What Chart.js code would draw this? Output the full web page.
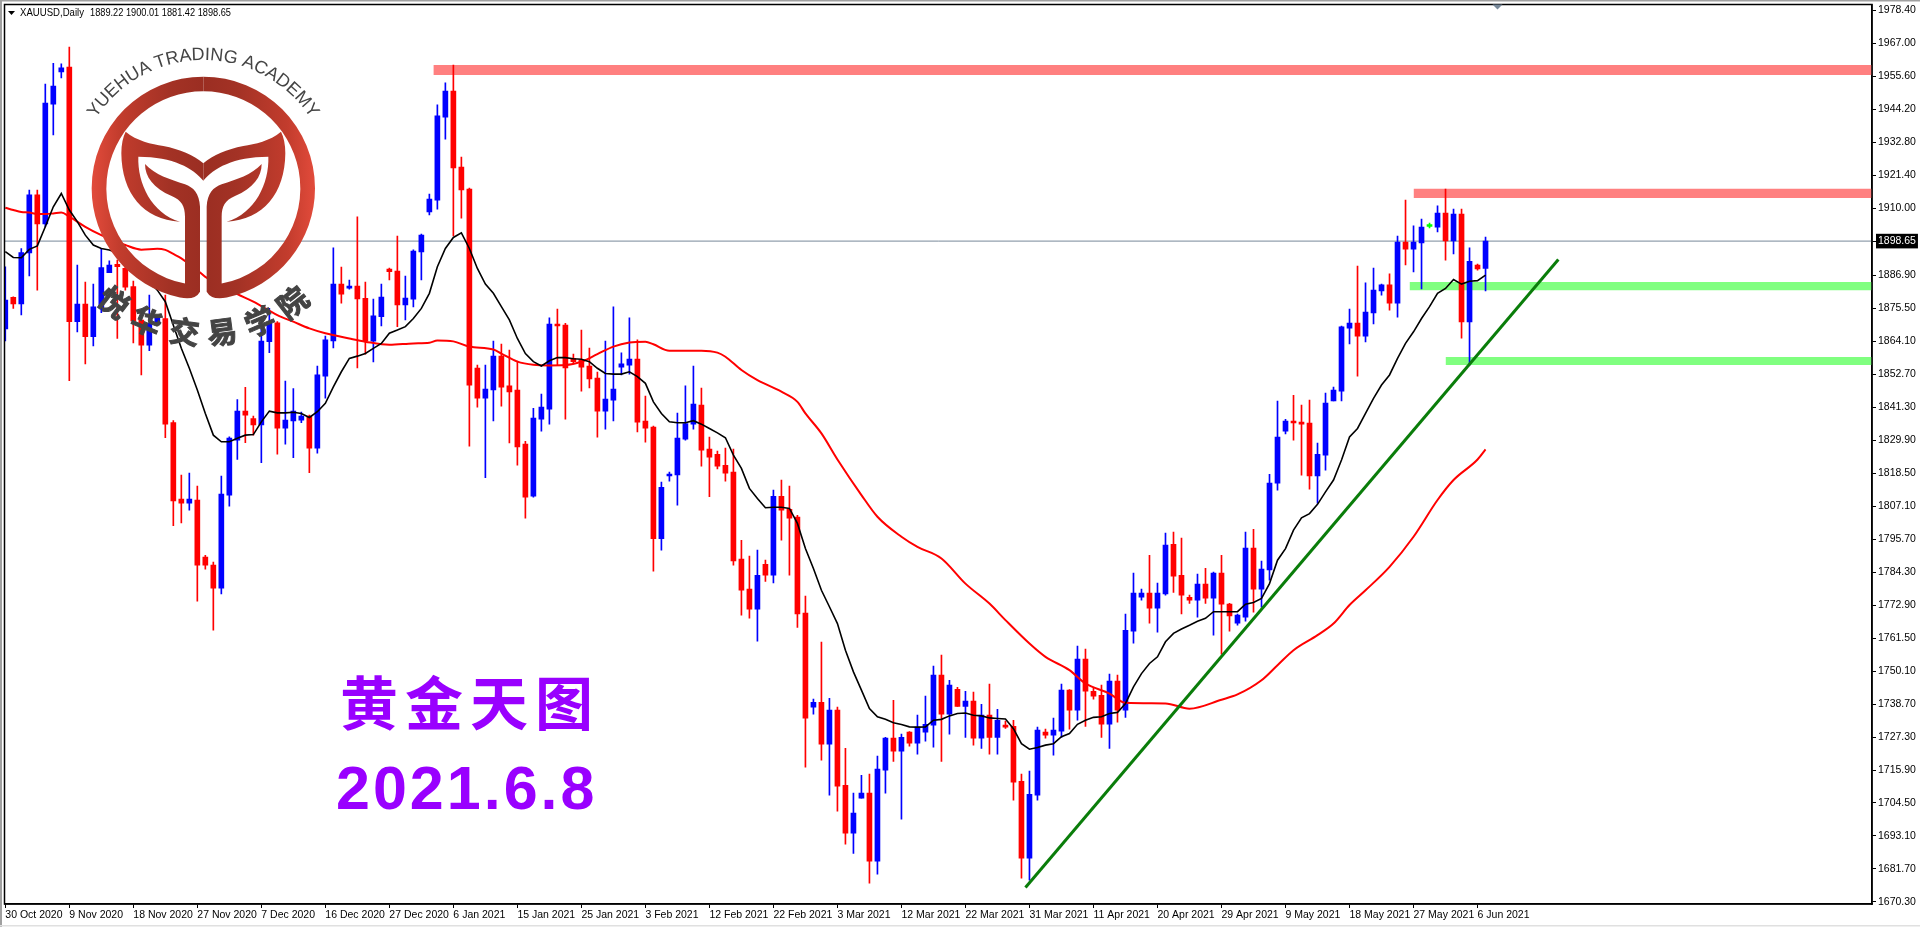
<!DOCTYPE html>
<html>
<head>
<meta charset="utf-8">
<title>XAUUSD Daily</title>
<script src="https://cdn.jsdelivr.net/npm/chart.js@4.4.0/dist/chart.umd.min.js"></script>
<style>
  html, body { margin: 0; padding: 0; background: #fff; overflow: hidden; }
  canvas { display: block; }
</style>
</head>
<body>
<canvas id="chart" width="1920" height="927"></canvas>
<script>
// candles, one entry per bar
const opens = [1868.3,1879.2,1876.9,1894.6,1914.6,1904.6,1946.0,1957.1,1958.8,1870.8,1876.9,1865.6,1875.6,1887.7,1890.6,1889.2,1882.9,1871.4,1862.7,1870.0,
  1871.9,1835.9,1809.5,1808.1,1809.2,1789.5,1786.7,1778.7,1810.9,1829.9,1839.9,1837.3,1835.1,1863.9,1870.4,1834.0,1836.5,1836.8,1838.2,1827.1,
  1852.0,1864.2,1883.8,1882.4,1883.1,1878.9,1864.1,1872.5,1889.0,1888.3,1876.6,1878.6,1894.9,1908.7,1912.8,1941.5,1950.5,1924.2,1916.6,1854.8,
  1844.4,1847.2,1858.9,1848.6,1847.2,1828.5,1810.5,1837.1,1840.6,1870.0,1869.6,1858.1,1857.5,1855.5,1851.3,1839.9,1843.7,1855.1,1855.8,1857.9,
  1836.5,1834.4,1795.8,1817.5,1817.9,1830.2,1835.4,1842.0,1826.8,1825.0,1821.2,1818.8,1788.8,1778.4,1771.5,1787.0,1783.2,1810.5,1806.0,1803.3,
  1770.1,1737.6,1739.3,1724.8,1736.6,1710.6,1694.1,1706.2,1707.9,1684.4,1715.8,1726.9,1722.4,1729.0,1725.2,1729.0,1731.4,1748.7,1735.2,1743.8,
  1737.9,1739.7,1726.9,1734.9,1727.2,1731.4,1731.0,1712.0,1685.4,1707.2,1729.0,1727.9,1729.3,1743.5,1736.6,1754.2,1743.1,1741.7,1731.7,1746.6,
  1736.6,1763.9,1775.6,1777.0,1771.8,1776.7,1793.9,1783.2,1775.6,1774.6,1780.1,1775.3,1783.9,1773.2,1766.6,1768.7,1792.6,1778.4,1785.0,1815.0,
  1833.0,1836.5,1836.1,1835.8,1817.5,1824.7,1843.4,1846.8,1868.6,1870.3,1865.8,1873.8,1881.4,1883.5,1877.2,1898.3,1895.9,1898.0,1903.7,1903.5,
  1908.3,1898.7,1908.0,1870.7,1890.4,1889.22];
const highs = [1889.8,1879.4,1896.1,1916.3,1916.3,1952.9,1960.1,1959.9,1965.7,1890.4,1884.5,1883.8,1896.1,1891.8,1892.1,1889.8,1884.8,1874.8,1880.0,1872.5,
  1880.0,1836.6,1817.8,1818.5,1814.0,1790.1,1787.7,1817.5,1831.0,1843.9,1848.1,1838.2,1868.5,1875.4,1870.8,1850.3,1847.7,1839.6,1838.5,1855.5,
  1865.8,1896.3,1889.7,1885.2,1907.0,1884.5,1878.6,1883.8,1889.3,1900.4,1886.6,1895.6,1901.1,1914.9,1945.7,1953.3,1959.5,1927.7,1917.0,1855.8,
  1855.8,1864.1,1863.1,1861.0,1857.2,1829.5,1840.9,1845.8,1872.1,1875.2,1870.2,1859.6,1867.9,1861.7,1853.4,1864.1,1875.9,1860.0,1872.1,1864.5,
  1845.1,1834.7,1815.4,1818.8,1839.2,1848.6,1855.5,1847.9,1830.9,1826.1,1827.1,1826.8,1795.3,1789.8,1791.9,1788.4,1812.6,1816.1,1814.0,1803.9,
  1776.0,1740.4,1760.1,1740.7,1737.6,1723.4,1707.9,1714.1,1714.5,1720.7,1727.2,1740.0,1728.3,1729.2,1734.9,1741.4,1751.8,1755.6,1746.9,1744.5,
  1743.1,1742.8,1738.6,1745.6,1736.9,1732.8,1733.1,1714.5,1715.5,1730.7,1730.0,1733.8,1745.6,1743.7,1758.7,1757.7,1744.2,1745.2,1749.0,1748.7,
  1769.8,1783.9,1778.4,1790.1,1780.5,1797.8,1798.1,1796.0,1776.3,1783.6,1785.6,1784.3,1790.1,1773.5,1769.8,1798.1,1799.1,1788.1,1818.1,1843.4,
  1837.1,1845.4,1842.0,1843.7,1828.9,1846.1,1848.2,1869.3,1875.2,1890.0,1884.2,1889.3,1883.8,1887.3,1900.4,1912.8,1903.9,1906.3,1904.9,1910.8,
  1916.6,1909.7,1909.7,1896.3,1890.7,1900.01];
const lows = [1864.2,1875.4,1873.1,1886.6,1881.7,1903.6,1935.3,1955.0,1850.4,1867.3,1856.2,1862.4,1873.9,1887.7,1865.0,1881.7,1863.5,1852.4,1860.8,1869.6,
  1830.7,1800.3,1801.3,1805.7,1774.2,1785.3,1764.2,1776.7,1807.1,1823.2,1829.0,1831.6,1822.1,1860.1,1825.0,1828.5,1823.8,1835.9,1818.6,1825.4,
  1844.4,1861.7,1877.2,1882.0,1854.8,1859.6,1856.9,1869.3,1885.2,1869.1,1871.4,1875.9,1885.2,1907.7,1909.7,1933.9,1900.4,1906.6,1827.8,1841.3,
  1816.9,1836.5,1841.6,1828.9,1821.2,1802.9,1810.2,1833.0,1835.4,1855.8,1837.1,1856.2,1846.8,1847.9,1830.9,1833.7,1836.5,1852.4,1852.7,1832.7,
  1829.2,1784.6,1791.9,1815.7,1807.4,1829.9,1833.7,1820.9,1810.3,1819.9,1815.7,1786.7,1769.4,1768.4,1760.4,1781.1,1780.5,1795.3,1783.2,1765.2,
  1716.9,1735.2,1719.3,1707.2,1701.7,1690.3,1687.1,1706.2,1676.8,1679.9,1707.9,1718.9,1698.9,1724.1,1721.4,1725.9,1723.8,1718.9,1728.3,1737.9,
  1727.2,1724.5,1723.4,1721.4,1721.4,1730.3,1705.5,1678.5,1677.8,1705.5,1726.9,1721.0,1727.2,1730.0,1733.1,1731.0,1740.4,1727.2,1723.4,1732.4,
  1734.1,1759.7,1774.6,1766.6,1763.5,1776.3,1777.3,1769.8,1773.5,1768.7,1773.5,1762.5,1755.9,1763.9,1765.9,1767.3,1770.4,1772.2,1781.5,1812.6,
  1832.0,1829.9,1817.8,1812.9,1808.1,1819.5,1843.4,1843.4,1863.1,1852.0,1863.8,1870.0,1880.0,1874.8,1872.4,1890.4,1888.0,1882.1,1903.2,1901.8,
  1892.1,1894.2,1865.1,1855.8,1888.6,1881.42];
const closes = [1878.3,1876.9,1894.7,1914.6,1904.6,1946.3,1952.2,1958.5,1870.8,1876.9,1865.6,1875.9,1889.5,1890.4,1889.8,1882.7,1871.1,1862.7,1870.2,1872.3,
  1835.4,1808.9,1808.1,1809.5,1786.7,1786.7,1778.7,1811.2,1830.6,1839.9,1838.5,1835.1,1864.1,1870.2,1834.0,1836.8,1839.9,1838.2,1827.1,1852.4,
  1864.5,1883.8,1880.3,1883.1,1878.7,1864.1,1872.8,1879.3,1888.1,1876.6,1879.0,1895.2,1900.7,1913.2,1941.9,1950.5,1923.9,1916.3,1848.9,1844.4,
  1847.5,1858.9,1848.2,1846.5,1827.5,1810.2,1837.5,1841.3,1870.0,1869.3,1854.8,1857.0,1855.1,1851.0,1839.9,1844.1,1847.5,1856.2,1857.9,1836.1,
  1834.0,1795.8,1813.6,1818.1,1830.6,1835.6,1842.3,1826.4,1824.0,1820.9,1818.5,1788.1,1778.0,1771.5,1783.2,1783.2,1810.5,1805.7,1802.9,1769.8,
  1733.8,1739.3,1724.8,1736.6,1710.3,1694.1,1701.0,1707.9,1684.4,1716.2,1726.9,1722.4,1727.2,1725.2,1730.7,1731.7,1748.7,1735.2,1745.2,1737.9,
  1739.7,1726.9,1734.9,1727.2,1733.1,1730.7,1711.7,1685.4,1707.5,1729.7,1727.9,1729.7,1743.5,1736.6,1754.2,1743.1,1741.4,1731.7,1746.6,1736.6,
  1764.2,1777.0,1777.0,1771.8,1777.0,1793.6,1782.9,1776.3,1774.6,1780.1,1775.3,1783.9,1773.2,1769.1,1769.4,1792.6,1778.4,1785.3,1815.0,1830.9,
  1836.5,1835.8,1835.4,1817.5,1825.0,1842.7,1847.2,1869.0,1870.3,1865.8,1874.1,1881.7,1883.5,1877.2,1898.3,1895.9,1898.3,1903.5,1903.7,1908.3,
  1898.7,1908.0,1870.7,1891.7,1889.0,1898.65];

// black moving average, one value per bar
const fastMa = [1895.0,1893.0,1892.9,1895.8,1897.0,1903.6,1910.5,1915.1,1909.4,1905.4,1900.7,1897.3,1896.1,1895.6,1894.6,1892.7,1890.4,1887.5,1884.6,1881.7,
  1877.7,1869.6,1861.6,1854.7,1847.2,1839.1,1831.6,1829.3,1829.3,1830.5,1831.6,1831.8,1836.2,1839.9,1839.3,1839.3,1839.5,1839.1,1837.7,1839.7,
  1842.6,1848.3,1853.5,1858.1,1858.9,1859.8,1861.6,1863.3,1866.8,1867.9,1869.1,1871.9,1875.4,1880.6,1889.8,1896.1,1899.9,1901.5,1896.1,1889.2,
  1883.8,1880.6,1876.0,1871.4,1865.0,1859.8,1857.0,1855.5,1857.3,1858.4,1858.4,1858.0,1857.8,1857.0,1854.7,1852.9,1852.7,1852.7,1853.5,1851.8,
  1849.5,1843.1,1839.1,1836.2,1835.9,1835.9,1836.6,1835.4,1833.9,1832.4,1830.7,1824.7,1820.1,1813.2,1809.7,1806.5,1806.7,1806.7,1806.3,1801.1,
  1792.4,1785.5,1778.0,1772.3,1766.5,1757.3,1749.8,1743.5,1737.1,1734.3,1733.4,1732.2,1731.6,1730.8,1730.7,1730.8,1733.1,1733.4,1734.6,1735.4,
  1735.6,1734.8,1734.6,1733.9,1733.7,1733.5,1730.2,1725.0,1723.1,1723.7,1724.5,1725.0,1727.4,1728.5,1731.7,1733.1,1734.1,1734.3,1735.4,1735.8,
  1738.9,1744.6,1749.2,1752.7,1755.0,1760.2,1763.1,1764.6,1765.9,1767.3,1768.3,1770.6,1770.6,1770.6,1770.6,1773.2,1773.8,1775.2,1780.3,1788.4,
  1792.4,1798.8,1803.0,1804.5,1807.7,1812.0,1816.1,1823.0,1831.0,1833.9,1839.1,1844.3,1848.9,1852.4,1858.1,1863.3,1867.3,1871.9,1876.0,1880.6,
  1882.3,1885.4,1883.8,1884.8,1885.0,1886.9];

// red moving average, read at the bars where it bends
const slowMaBars = [0,1,2,3,4,5,6,7,8,10,12,14,15,17,19,20,21,22,24,25,27,29,31,34,36,38,40,43,45,48,51,53,54,56,58,61,62,64,66,68,70,72,74,76,78,80,81,83,87,89,90,92,94,97,99,100,102,104,107,109,112,114,117,120,123,125,128,130,133,135,138,140,145,148,152,154,157,159,161,164,166,168,170,173,176,179,181,184,185];
const slowMaValues = [1910.2,1909.4,1908.7,1908.5,1908.0,1908.0,1908.2,1908.5,1907.1,1903.6,1900.7,1898.4,1897.3,1895.7,1896.0,1895.6,1894.2,1892.7,1888.6,1886.3,1883.1,1880.3,1877.7,1873.1,1870.8,1868.5,1866.8,1865.0,1863.9,1862.8,1863.3,1863.5,1864.3,1864.0,1862.2,1861.2,1859.8,1857.0,1855.9,1855.7,1855.8,1857.0,1859.6,1862.2,1863.6,1863.9,1863.0,1860.8,1860.8,1860.1,1858.7,1854.1,1850.6,1846.6,1843.1,1839.1,1832.2,1823.2,1810.9,1803.4,1796.5,1793.0,1789.0,1780.3,1773.4,1767.7,1759.6,1755.0,1750.4,1745.8,1742.3,1739.1,1738.9,1737.1,1740.2,1742.0,1746.9,1752.1,1757.3,1762.5,1766.5,1772.9,1778.0,1786.1,1796.5,1809.2,1816.1,1823.2,1826.7];

// support and resistance zones: first bar, upper price, lower price
const zoneStartBars = [53.5,176,175.5,180];
const zoneUpper = [1959.5,1916.7,1884.5,1858.6];
const zoneLower = [1956.0,1913.5,1881.7,1855.8];
const zoneColors = ['#ff8080','#ff8080','#80ff80','#80ff80'];

const trendBars = [127.5,194.1];
const trendPrices = [1675.3,1892.3];

const lastPrice = 1898.65;
const dateLabels = ['30 Oct 2020','9 Nov 2020','18 Nov 2020','27 Nov 2020','7 Dec 2020','16 Dec 2020','27 Dec 2020','6 Jan 2021','15 Jan 2021','25 Jan 2021','3 Feb 2021','12 Feb 2021','22 Feb 2021','3 Mar 2021','12 Mar 2021','22 Mar 2021','31 Mar 2021','11 Apr 2021','20 Apr 2021','29 Apr 2021','9 May 2021','18 May 2021','27 May 2021','6 Jun 2021'];
const priceTicks = [1978.40,1967.00,1955.60,1944.20,1932.80,1921.40,1910.00,1898.65,1886.90,1875.50,1864.10,1852.70,1841.30,1829.90,1818.50,1807.10,1795.70,1784.30,1772.90,1761.50,1750.10,1738.70,1727.30,1715.90,1704.50,1693.10,1681.70,1670.30];

const axisFont = { family: '"Liberation Sans",sans-serif', size: 10.5 };
const lastBar = 233.3;

function candleColor(i) {
  if (closes[i] === opens[i]) return '#00ff00';
  return closes[i] > opens[i] ? '#0000ff' : '#ff0000';
}

const barColors = opens.map((_, i) => candleColor(i));

// zones go under everything else
const zoneDatasets = zoneStartBars.map((start, i) => ({
  type: 'line',
  data: [{ x: start, y: zoneUpper[i] }, { x: lastBar, y: zoneUpper[i] }],
  borderWidth: 0,
  pointRadius: 0,
  backgroundColor: zoneColors[i],
  fill: { target: { value: zoneLower[i] } },
  order: 10
}));

const datasets = [
  ...zoneDatasets,
  {
    type: 'line',
    data: [{ x: -0.1, y: lastPrice }, { x: lastBar, y: lastPrice }],
    borderColor: '#778899',
    borderWidth: 1,
    pointRadius: 0,
    order: 9
  },
  {
    type: 'bar',
    data: highs.map((h, i) => ({ x: i, y: [lows[i], h] })),
    backgroundColor: barColors,
    barThickness: 1,
    minBarLength: 1,
    order: 8
  },
  {
    type: 'bar',
    data: opens.map((o, i) => ({ x: i, y: [o, closes[i]] })),
    backgroundColor: barColors,
    barThickness: 5,
    minBarLength: 2,
    order: 7
  },
  {
    type: 'line',
    data: slowMaBars.map((b, i) => ({ x: b, y: slowMaValues[i] })),
    borderColor: '#ff0000',
    borderWidth: 2,
    pointRadius: 0,
    cubicInterpolationMode: 'monotone',
    order: 6
  },
  {
    type: 'line',
    data: fastMa.map((v, i) => ({ x: i, y: v })),
    borderColor: '#000000',
    borderWidth: 1.6,
    pointRadius: 0,
    order: 5
  },
  {
    type: 'line',
    data: trendBars.map((b, i) => ({ x: b, y: trendPrices[i] })),
    borderColor: '#0a7d0a',
    borderWidth: 3,
    pointRadius: 0,
    order: 4
  }
];

// terminal frame, header text and chart-shift marker
const framePlugin = {
  id: 'frame',
  afterDatasetsDraw(chart) {
    const { ctx, chartArea: a } = chart;
    ctx.save();
    ctx.strokeStyle = '#000';
    ctx.lineWidth = 1.5;
    ctx.strokeRect(a.left, a.top, a.right - a.left, a.bottom - a.top);
    ctx.fillStyle = '#a0a0a0';
    ctx.fillRect(0, 0, 1920, 1.5);
    ctx.fillRect(0, 0, 2, 927);
    ctx.fillStyle = '#e0e0e0';
    ctx.fillRect(0, 925, 1920, 1.5);

    ctx.fillStyle = '#778899';
    ctx.beginPath();
    ctx.moveTo(1492.5, a.top);
    ctx.lineTo(1502.5, a.top);
    ctx.lineTo(1497.5, a.top + 5);
    ctx.fill();

    ctx.fillStyle = '#000';
    ctx.beginPath();
    ctx.moveTo(8, 11);
    ctx.lineTo(15, 11);
    ctx.lineTo(11.5, 15);
    ctx.fill();
    ctx.font = '11px ' + axisFont.family;
    ctx.textBaseline = 'middle';
    ctx.fillText('XAUUSD,Daily', 20, 13, 64);
    ctx.fillText('1889.22 1900.01 1881.42 1898.65', 90, 13, 141);
    ctx.restore();
  }
};

// school logo and caption sit on top of the chart
const logoPlugin = {
  id: 'logo',
  afterDraw(chart) {
    const ctx = chart.ctx;
    const cx = 370, cy = 385;
    const halfMark = () => {
      ctx.beginPath();
      ctx.arc(cx, cy, 335, -Math.PI / 2, 102.1 * Math.PI / 180, true);
      ctx.quadraticCurveTo(345, 722, 360, 695);
      ctx.lineTo(360, 440);
      ctx.bezierCurveTo(358, 400, 340, 382, 315, 373);
      ctx.bezierCurveTo(270, 358, 225, 345, 195, 312);
      ctx.bezierCurveTo(195, 350, 220, 385, 275, 408);
      ctx.bezierCurveTo(305, 420, 315, 440, 315, 470);
      ctx.lineTo(315, 672);
      ctx.arc(cx, cy, 291, 100.85 * Math.PI / 180, -Math.PI / 2, false);
      ctx.closePath();
      ctx.fill();

      ctx.beginPath();
      ctx.moveTo(137, 215);
      ctx.bezierCurveTo(170, 243, 215, 252, 250, 258);
      ctx.bezierCurveTo(300, 268, 340, 285, 370, 310);
      ctx.lineTo(370, 362);
      ctx.bezierCurveTo(340, 325, 280, 290, 175, 290);
      ctx.bezierCurveTo(172, 370, 215, 460, 300, 485);
      ctx.bezierCurveTo(190, 480, 125, 400, 124, 280);
      ctx.quadraticCurveTo(124, 240, 137, 215);
      ctx.closePath();
      ctx.fill();
    };

    ctx.save();
    ctx.translate(80, 60);
    ctx.scale(1 / 3, 1 / 3);
    const grad = ctx.createLinearGradient(35, 0, 370, 0);
    grad.addColorStop(0, '#e24b3b');
    grad.addColorStop(0.25, '#c23c2d');
    grad.addColorStop(0.7, '#a33225');
    grad.addColorStop(1, '#9b2e22');
    ctx.fillStyle = grad;
    halfMark();
    ctx.translate(740, 0);
    ctx.scale(-1, 1);
    halfMark();
    ctx.restore();

    // english name bent over the ring
    const centerX = 203.3, centerY = 188, radius = 128;
    const name = 'YUEHUA TRADING ACADEMY';
    ctx.save();
    ctx.fillStyle = '#444';
    ctx.strokeStyle = '#444';
    ctx.font = '18px "Liberation Sans",sans-serif';
    ctx.textAlign = 'center';
    ctx.textBaseline = 'alphabetic';
    const total = ctx.measureText(name).width;
    let run = -total / 2;
    for (const ch of name) {
      const w = ctx.measureText(ch).width;
      const ang = (run + w / 2) / radius;
      ctx.save();
      ctx.translate(centerX + radius * Math.sin(ang), centerY - radius * Math.cos(ang));
      ctx.rotate(ang);
      ctx.fillText(ch, 0, 0);
      ctx.restore();
      run += w;
    }

    // chinese name under the ring
    const cnName = ['悦', '华', '交', '易', '学', '院'];
    const cnAngles = [38, 23, 7.5, -7.5, -23, -38];
    ctx.font = '700 30px "Noto Sans CJK SC",sans-serif';
    ctx.textBaseline = 'middle';
    ctx.lineWidth = 1;
    cnName.forEach((ch, i) => {
      const ang = cnAngles[i] * Math.PI / 180;
      ctx.save();
      ctx.translate(centerX - 145 * Math.sin(ang), centerY + 145 * Math.cos(ang));
      ctx.rotate(ang);
      ctx.fillText(ch, 0, 0);
      ctx.strokeText(ch, 0, 0);
      ctx.restore();
    });

    // purple caption
    ctx.fillStyle = '#9900ff';
    ctx.font = '700 58px "Noto Sans CJK SC",sans-serif';
    ['黄', '金', '天', '图'].forEach((ch, i) => ctx.fillText(ch, 369 + i * 65, 703));
    ctx.font = '700 61px "Liberation Sans",sans-serif';
    ctx.textAlign = 'left';
    ctx.textBaseline = 'alphabetic';
    ctx.letterSpacing = '3px';
    ctx.fillText('2021.6.8', 336, 809);
    ctx.restore();
  }
};

new Chart(document.getElementById('chart'), {
  data: { datasets },
  options: {
    responsive: false,
    animation: false,
    devicePixelRatio: 1,
    layout: { padding: { left: 4.5, top: 4.5, right: 0, bottom: 0 } },
    plugins: { legend: { display: false }, title: { display: false }, tooltip: { enabled: false } },
    datasets: { bar: { grouped: false, borderWidth: 0 } },
    scales: {
      x: {
        type: 'linear',
        offset: false,
        min: -0.1,
        max: lastBar,
        afterBuildTicks(axis) { axis.ticks = dateLabels.map((_, i) => ({ value: i * 8 })); },
        afterFit(axis) {
          axis.height = 23;
          axis.paddingLeft = 0;
          axis.paddingRight = 0;
        },
        grid: { offset: false, drawOnChartArea: false, drawTicks: true, tickLength: 4, color: '#000' },
        border: { color: '#000', width: 1.5 },
        ticks: {
          autoSkip: false,
          maxRotation: 0,
          align: 'start',
          padding: 1,
          color: '#000',
          font: axisFont,
          callback: (v) => dateLabels[Math.round(v / 8)]
        }
      },
      y: {
        type: 'linear',
        position: 'right',
        min: 1669.6,
        max: 1980.4,
        afterBuildTicks(axis) { axis.ticks = priceTicks.map((v) => ({ value: v })); },
        afterFit(axis) {
          axis.width = 48;
          axis.paddingTop = 0;
          axis.paddingBottom = 0;
        },
        grid: { drawOnChartArea: false, drawTicks: true, tickLength: 4, color: '#000' },
        border: { color: '#000', width: 1.5 },
        ticks: {
          autoSkip: false,
          padding: 2,
          font: axisFont,
          color: (c) => (c.tick.value === lastPrice ? '#fff' : '#000'),
          showLabelBackdrop: (c) => c.tick.value === lastPrice,
          backdropColor: '#000',
          backdropPadding: { left: 2, right: 2, top: 1, bottom: 1 },
          callback: (v) => v.toFixed(2)
        }
      }
    }
  },
  plugins: [framePlugin, logoPlugin]
});
</script>
</body>
</html>
